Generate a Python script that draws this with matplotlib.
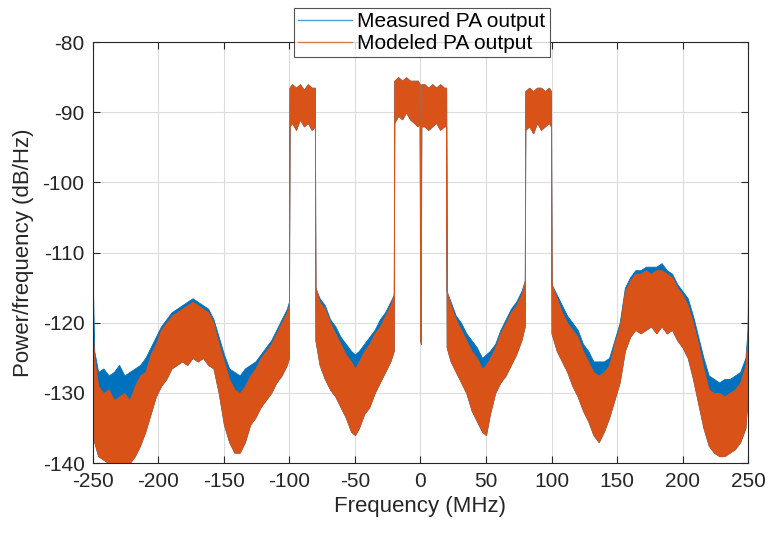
import matplotlib
matplotlib.use("Agg")
import matplotlib.pyplot as plt
from matplotlib.lines import Line2D

plt.rcParams['font.family'] = ['Liberation Sans', 'DejaVu Sans']
plt.rcParams['axes.unicode_minus'] = False

# frequency nodes (MHz) and the band envelopes (dB/Hz)
freq = [-250, -249, -246, -242, -238, -234, -230, -226, -222, -218, -214, -210,
        -206, -202, -198, -194, -190, -186, -182, -178, -174, -170, -166, -162,
        -158, -154, -150, -146, -142, -138, -134, -130, -126, -122, -118, -114,
        -110, -106, -102, -100.4, -100, -98, -95, -92, -89, -86, -83, -80.6,
        -80.2, -77, -73, -69, -65, -61, -57, -53, -50, -47, -43, -39, -35, -31,
        -27, -23, -20.4, -20, -17, -14, -11, -8, -5, -2, -0.6, -0.3, 0.3, 0.6,
        3, 6, 9, 12, 15, 18, 19.6, 20, 23, 27, 31, 35, 39, 43, 47, 50, 53, 57,
        61, 65, 69, 73, 77, 79.6, 80, 83, 86, 89, 92, 95, 98, 99.6, 100, 104,
        108, 112, 116, 120, 124, 128, 132, 136, 140, 144, 148, 152, 156, 160,
        164, 168, 172, 176, 180, 184, 188, 192, 196, 200, 204, 208, 212, 216,
        220, 224, 228, 232, 236, 240, 244, 248, 249.6, 250]

measured_hi = [-115, -124, -127, -126.5, -127.5, -127, -126, -127.5, -127, -126.5,
               -126, -125, -123.5, -122, -120.5, -119.5, -118.5, -118, -117.5,
               -117, -116.5, -117, -117.5, -118, -119.5, -122, -124.5, -126.5,
               -127, -127.5, -126.5, -126, -125.5, -124.5, -123.5, -122.5, -121,
               -119.5, -118, -117, -86.5, -86, -86.5, -86, -86.8, -86, -86.5,
               -86.5, -115, -116.5, -117.5, -119.5, -120.5, -122, -123, -124,
               -124.5, -124, -123, -122, -121, -119.5, -118.5, -117, -116, -85.5,
               -85, -85.5, -85, -85.5, -85.5, -85.5, -86, -113.5, -114, -86, -86,
               -86.5, -86, -86.5, -86, -86.5, -86.5, -115.5, -117, -119, -120,
               -121.5, -122.5, -123.5, -125, -124.5, -124, -123, -121, -119.5,
               -118, -117, -115.5, -114, -87, -86.5, -87, -86.5, -86.5, -87,
               -86.5, -87, -114.5, -116, -117.5, -119, -120, -121, -123, -124,
               -125.5, -125.5, -125.5, -125, -122.5, -120, -115, -113.5, -112.5,
               -112.5, -112, -112, -112, -111.5, -112.5, -113, -114.5, -115.5,
               -116.5, -119, -122, -125, -127.5, -128, -128.5, -128, -128, -127.5,
               -127, -125, -121, -115]

modeled_hi = [-122, -125, -129, -130, -129.5, -131, -130.5, -130, -131, -129,
              -127.5, -127, -124.5, -123, -121, -120, -119, -118.5, -118, -117.5,
              -117, -117.5, -118, -118.5, -120, -123, -125.5, -128, -129.5, -130,
              -129, -127.5, -126.5, -125, -124, -123, -121.5, -120, -118.5, -117.5,
              -86.5, -86, -86.5, -86, -86.8, -86, -86.5, -86.5, -115, -117, -118,
              -120, -121.5, -123, -124.5, -125.5, -126.5, -125.5, -124, -123,
              -121.5, -120.5, -119, -117.5, -116, -85.5, -85, -85.5, -85, -85.5,
              -85.5, -85.5, -86, -113.5, -114, -86, -86, -86.5, -86, -86.5, -86,
              -86.5, -86.5, -115.5, -117.5, -119.5, -121, -122.5, -124, -125,
              -126.5, -126, -125, -123.5, -121.5, -120, -118.5, -117.5, -116,
              -114, -87, -86.5, -87, -86.5, -86.5, -87, -86.5, -87, -114.5,
              -116.5, -118.5, -120, -121, -122, -124, -125.5, -127, -127.5, -127,
              -126, -123, -120.5, -115.5, -114, -113, -113, -112.5, -113, -112.5,
              -112.5, -113, -113.5, -115, -116, -117.5, -120, -123, -126.5,
              -129.5, -130, -130, -130.5, -130, -129.5, -128.5, -126, -122, -118]

modeled_lo = [-135, -137, -139, -139.5, -140, -140, -140, -140, -140, -139,
              -137.5, -135.5, -133, -130.5, -129, -128, -126.5, -126, -125.5, -126,
              -125, -125.5, -125, -126, -126.5, -130, -134.5, -137, -138.5, -138.5,
              -137, -134.5, -133.5, -132, -131, -130, -128.5, -127.5, -126, -125,
              -92, -91.5, -92.5, -91, -92, -91.5, -92.5, -92, -122.5, -126, -128,
              -129.5, -130.5, -132, -133.5, -135.5, -136, -135, -133, -132, -130,
              -128.5, -127, -125.5, -124, -91.5, -90.5, -91, -90, -91, -91.5, -92,
              -91.5, -122.5, -123, -92, -92, -92.5, -92, -91.5, -92.5, -92, -92,
              -123.5, -125.5, -127, -128.5, -130, -132.5, -134, -135.5, -136, -133,
              -130, -128.5, -127.5, -126, -124.5, -122.5, -120.5, -92.5, -92, -93,
              -91.5, -92.5, -92, -91.5, -92, -121.5, -124, -125.5, -127, -129,
              -130.5, -132.5, -134, -136, -137, -135.5, -133.5, -131, -128.5, -124,
              -122, -121, -121.5, -121, -120.5, -121.5, -120.5, -121.5, -121,
              -122.5, -123.5, -125, -128, -131.5, -135, -137.5, -138.5, -139, -139,
              -138.5, -138, -137, -135, -131, -127]

blue = '#0072BD'
orange = '#D95319'
ink = '#262626'

fig = plt.figure(figsize=(7.68, 5.33), dpi=100)
ax = fig.add_axes([0.121, 0.131, 0.853, 0.790])

ax.fill_between(freq, modeled_lo, measured_hi, color=blue, lw=0.6)
ax.fill_between(freq, modeled_lo, modeled_hi, color=orange, lw=0.6)

ax.set_xlim(-250, 250)
ax.set_ylim(-140, -80)
ax.set_xticks(range(-250, 251, 50))
ax.set_yticks(range(-140, -79, 10))
ax.grid(True, color='#dcdcdc', lw=0.8)
ax.set_axisbelow(True)
ax.tick_params(direction='in', top=True, right=True, length=5, width=0.8,
               colors=ink, labelsize=15, pad=6)
for s in ax.spines.values():
    s.set_color(ink)
    s.set_linewidth(0.8)

ax.set_xlabel('Frequency (MHz)', fontsize=16, color=ink, labelpad=4)
ax.set_ylabel('Power/frequency (dB/Hz)', fontsize=16, color=ink, labelpad=6)

handles = [Line2D([], [], color=blue, lw=1, alpha=0.7),
           Line2D([], [], color=orange, lw=1, alpha=0.7)]
leg = fig.legend(handles, ['Measured PA output', 'Modeled PA output'],
                 loc='upper center', bbox_to_anchor=(0.549, 0.985),
                 fontsize=15, frameon=True, fancybox=False, handlelength=2.6,
                 handletextpad=0.25, borderpad=0.2, labelspacing=0.15,
                 borderaxespad=0)
leg.get_frame().set_edgecolor(ink)
leg.get_frame().set_linewidth(0.8)
for t in leg.get_texts():
    t.set_color('black')

fig.savefig('out.png', dpi=100)
